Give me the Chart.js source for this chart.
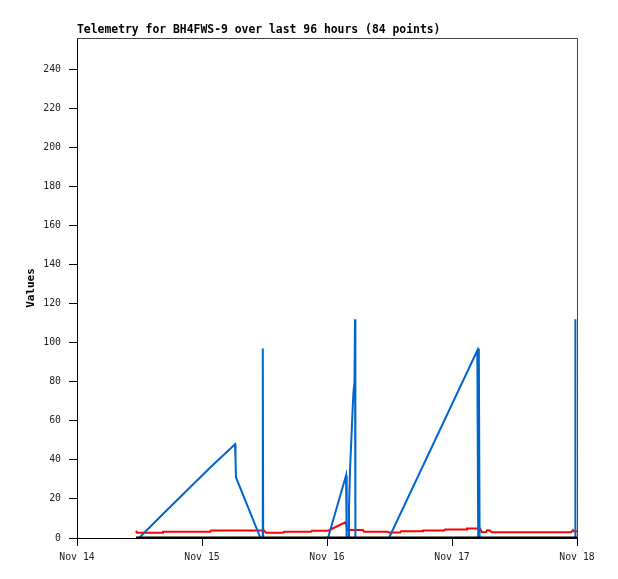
<!DOCTYPE html>
<html>
<head>
<meta charset="utf-8">
<script src="https://cdn.jsdelivr.net/npm/chart.js@4.4.0/dist/chart.umd.min.js"></script>
<style>
  html, body { margin: 0; padding: 0; background: #fff; }
  #wrap { width: 618px; height: 579px; }
</style>
</head>
<body>
<div id="wrap"><canvas id="telemetry" width="618" height="579"></canvas></div>
<script>
// --- data (x = hours since Nov 14 00:00) ---
const chartTitle = 'Telemetry for BH4FWS-9 over last 96 hours (84 points)';
const yTitle = 'Values';
const dayHours = [0, 24, 48, 72, 96];
const dayLabels = ['Nov 14', 'Nov 15', 'Nov 16', 'Nov 17', 'Nov 18'];

const blueHours = [11.9, 16.51, 25.73, 30.34, 30.43, 30.53, 35.23, 35.62, 35.67, 35.75,
  48.19, 51.65, 51.78, 52.13, 52.22, 52.42, 52.70, 52.90, 53.09, 53.28, 53.38, 53.45,
  59.90, 76.86, 77.03, 77.15, 77.30, 95.62, 95.69];
const blueValues = [0, 12.3, 36.5, 48, 40, 31, 0, 0, 97, 0,
  0, 32, 0, 0, 16, 35, 52, 65, 75, 80, 112, 0,
  0, 96, 0, 97, 0, 0, 112];

const redHours = [11.33, 11.52, 16.32, 16.51, 25.54, 25.73, 35.90, 36.29, 39.55, 39.74,
  44.93, 45.12, 48.19, 51.65, 51.84, 54.91, 55.10, 59.71, 59.90, 62.02, 62.21, 66.24,
  66.43, 70.46, 70.66, 74.69, 74.88, 77.38, 77.76, 78.53, 78.72, 79.30, 79.58, 94.85,
  95.23, 95.42, 96.0];
const redValues = [3.7, 2.7, 2.7, 3.2, 3.2, 3.9, 3.9, 2.7, 2.7, 3.2,
  3.2, 3.7, 3.7, 8.2, 4.1, 4.1, 3.2, 3.2, 2.8, 2.8, 3.4, 3.4,
  3.9, 3.9, 4.4, 4.4, 4.9, 4.9, 2.9, 3.0, 3.9, 3.8, 2.9, 2.9,
  4.0, 3.3, 3.5];

const blackHours = [11.33, 96.0];
const blackValues = [0, 0];

const toPoints = (hours, values) => hours.map((h, i) => ({ x: h, y: values[i] }));

const tickFont = { family: '"DejaVu Sans Mono", monospace', size: 9.8 };
const boldFont = { family: '"DejaVu Sans Mono", monospace', size: 11.4, weight: 'bold' };

// grey top/right frame + title text
const framePlugin = {
  id: 'frame',
  beforeDatasetsDraw(chart) {
    const { ctx, chartArea: a } = chart;
    ctx.save();
    ctx.strokeStyle = '#444';
    ctx.lineWidth = 1;
    ctx.beginPath();
    ctx.moveTo(a.left, Math.round(a.top) + 0.5);
    ctx.lineTo(Math.round(a.right) + 0.5, Math.round(a.top) + 0.5);
    ctx.lineTo(Math.round(a.right) + 0.5, a.bottom);
    ctx.stroke();
    ctx.restore();
  },
  afterDraw(chart) {
    const { ctx, chartArea: a } = chart;
    ctx.save();
    ctx.fillStyle = '#000';
    ctx.font = 'bold 11.4px "DejaVu Sans Mono", monospace';
    ctx.textBaseline = 'alphabetic';
    ctx.textAlign = 'left';
    ctx.fillText(chartTitle, a.left, 33);
    ctx.restore();
  }
};

new Chart(document.getElementById('telemetry'), {
  type: 'line',
  data: {
    datasets: [
      { data: toPoints(blackHours, blackValues), borderColor: '#000', borderWidth: 3 },
      { data: toPoints(blueHours, blueValues), borderColor: '#0066cc', borderWidth: 2 },
      { data: toPoints(redHours, redValues), borderColor: '#ff0000', borderWidth: 2 }
    ]
  },
  options: {
    responsive: false,
    animation: false,
    events: [],
    parsing: false,
    elements: { point: { radius: 0 }, line: { tension: 0, borderJoinStyle: 'miter' } },
    layout: { padding: { top: 38, right: 41, bottom: 0, left: 0 } },
    plugins: { legend: { display: false }, title: { display: false }, tooltip: { enabled: false } },
    scales: {
      x: {
        type: 'linear',
        min: 0,
        max: 96,
        afterFit: s => { s.height = 41; },
        afterBuildTicks: s => { s.ticks = dayHours.map(v => ({ value: v })); },
        ticks: {
          autoSkip: false,
          maxRotation: 0,
          padding: 6,
          color: '#222',
          font: tickFont,
          callback: v => dayLabels[dayHours.indexOf(v)] ?? ''
        },
        grid: { drawOnChartArea: false, drawTicks: true, tickLength: 8, tickColor: '#000' },
        border: { color: '#000', width: 1 }
      },
      y: {
        min: 0,
        max: 256,
        afterFit: s => { s.width = 77; },
        ticks: { stepSize: 20, includeBounds: false, padding: 8, color: '#222', font: tickFont },
        grid: { drawOnChartArea: false, drawTicks: true, tickLength: 8, tickColor: '#000' },
        border: { color: '#000', width: 1 },
        title: { display: true, text: yTitle, color: '#000', font: { ...boldFont, size: 11 }, padding: { top: 25, bottom: 0 } }
      }
    }
  },
  plugins: [framePlugin]
});
</script>
</body>
</html>
